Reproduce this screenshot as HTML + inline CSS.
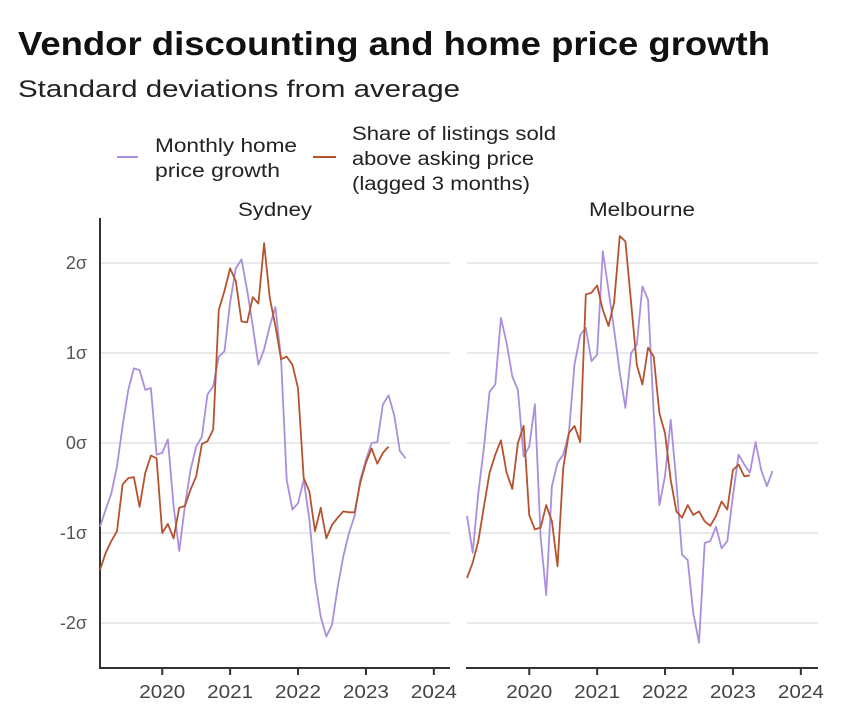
<!DOCTYPE html>
<html><head><meta charset="utf-8"><style>
body{margin:0;background:#fff;}
svg text{font-family:"Liberation Sans",sans-serif;}
</style></head><body>
<svg width="849" height="720" viewBox="0 0 849 720" xmlns="http://www.w3.org/2000/svg">
<text x="18" y="55" font-size="33" font-weight="bold" fill="#111" textLength="752" lengthAdjust="spacingAndGlyphs">Vendor discounting and home price growth</text>
<text x="18" y="97" font-size="24" fill="#222" textLength="442" lengthAdjust="spacingAndGlyphs">Standard deviations from average</text>
<g>
<line x1="117" y1="157" x2="138" y2="157" stroke="#a98fdc" stroke-width="2"/>
<text font-size="19" fill="#222"><tspan x="155" y="152" textLength="142" lengthAdjust="spacingAndGlyphs">Monthly home</tspan><tspan x="155" y="177" textLength="125" lengthAdjust="spacingAndGlyphs">price growth</tspan></text>
<line x1="313" y1="157" x2="336" y2="157" stroke="#b5532f" stroke-width="2"/>
<text font-size="19" fill="#222"><tspan x="352" y="140" textLength="204" lengthAdjust="spacingAndGlyphs">Share of listings sold</tspan><tspan x="352" y="165" textLength="182" lengthAdjust="spacingAndGlyphs">above asking price</tspan><tspan x="352" y="190" textLength="178" lengthAdjust="spacingAndGlyphs">(lagged 3 months)</tspan></text>
</g>
<g id="plots"></g>
</svg>
<script>
const yTicks=[2,1,0,-1,-2];
const yTickLabels=["2σ","1σ","0σ","-1σ","-2σ"];
const xTicks=[2020,2021,2022,2023,2024];
const panelNames=["Sydney","Melbourne"];
const sydPrice=[-0.93,-0.74,-0.56,-0.26,0.19,0.59,0.83,0.81,0.59,0.61,-0.13,-0.11,0.04,-0.7,-1.2,-0.7,-0.3,-0.04,0.07,0.54,0.63,0.96,1.02,1.56,1.94,2.04,1.7,1.3,0.87,1.04,1.3,1.51,0.93,-0.41,-0.74,-0.67,-0.41,-0.85,-1.52,-1.93,-2.15,-2.02,-1.6,-1.26,-1.0,-0.81,-0.41,-0.19,0,0.01,0.43,0.53,0.31,-0.09,-0.17];
const sydShare=[-1.41,-1.22,-1.09,-0.98,-0.46,-0.39,-0.38,-0.71,-0.33,-0.14,-0.17,-1.0,-0.9,-1.06,-0.72,-0.7,-0.52,-0.37,-0.01,0.02,0.15,1.48,1.69,1.94,1.8,1.35,1.34,1.62,1.55,2.22,1.61,1.3,0.93,0.96,0.87,0.61,-0.39,-0.54,-0.98,-0.72,-1.06,-0.91,-0.83,-0.76,-0.77,-0.77,-0.44,-0.22,-0.06,-0.23,-0.11,-0.04];
const melPrice=[-0.81,-1.22,-0.56,-0.04,0.57,0.65,1.39,1.11,0.74,0.59,-0.15,-0.04,0.43,-1.04,-1.69,-0.48,-0.22,-0.13,0.11,0.87,1.2,1.28,0.91,0.98,2.13,1.7,1.26,0.78,0.39,1.0,1.09,1.74,1.59,0.33,-0.69,-0.37,0.26,-0.44,-1.24,-1.3,-1.89,-2.22,-1.11,-1.09,-0.93,-1.17,-1.09,-0.59,-0.13,-0.24,-0.33,0.01,-0.3,-0.48,-0.31];
const melShare=[-1.5,-1.33,-1.09,-0.7,-0.33,-0.13,0.03,-0.33,-0.51,0,0.19,-0.8,-0.96,-0.94,-0.69,-0.87,-1.37,-0.28,0.11,0.19,0.01,1.65,1.67,1.75,1.48,1.3,1.56,2.3,2.24,1.56,0.87,0.65,1.06,0.96,0.33,0.11,-0.41,-0.76,-0.83,-0.69,-0.8,-0.76,-0.87,-0.92,-0.81,-0.65,-0.74,-0.3,-0.24,-0.37,-0.36];
const startYear=2019+1/12; // Feb 2019
const NS="http://www.w3.org/2000/svg";
const g=document.getElementById('plots');
function mk(t,a){const e=document.createElementNS(NS,t);for(const k in a)e.setAttribute(k,a[k]);return e;}
const panels=[{x0:100,x1:450,price:sydPrice,share:sydShare,cx:275},{x0:467,x1:818,price:melPrice,share:melShare,cx:642}];
function yS(v){return 443-v*90;}
panels.forEach((p,pi)=>{
  const xS=yr=>p.x0+(yr-startYear)*67.9;
  const pg=mk('g',{});
  
  
  g.appendChild(pg);
  const t=mk('text',{x:p.cx,y:216,'font-size':19,'text-anchor':'middle',fill:'#222',textLength:pi?106:74,lengthAdjust:'spacingAndGlyphs'});
  t.textContent=panelNames[pi];
  
  
  pg.appendChild(t);
  yTicks.forEach((v,i)=>{
    const l=mk('line',{x1:p.x0,x2:p.x1,y1:yS(v),y2:yS(v),stroke:'#e2e2e2','stroke-width':1.5});
    
    
    pg.appendChild(l);
    if(pi===0){
      const tl=mk('text',{x:87,y:yS(v)+6,'font-size':18,'text-anchor':'end',fill:'#555'});
      tl.textContent=yTickLabels[i];
      
      
      pg.appendChild(tl);
    }
  });
  if(pi===0){
    const ya=mk('line',{x1:p.x0,x2:p.x0,y1:218,y2:669,stroke:'#333','stroke-width':2});
    
    
    pg.appendChild(ya);
  }
  const xa=mk('line',{x1:p.x0-1,x2:p.x1,y1:668,y2:668,stroke:'#333','stroke-width':2});
  
  
  pg.appendChild(xa);
  xTicks.forEach(yr=>{
    const x=xS(yr);
    const tk=mk('line',{x1:x,x2:x,y1:668,y2:675,stroke:'#333','stroke-width':2});
    
    
    pg.appendChild(tk);
    const tl=mk('text',{x:x,y:698,'font-size':18,'text-anchor':'middle',fill:'#444',textLength:46,lengthAdjust:'spacingAndGlyphs'});
    tl.textContent=yr;
    
    
    pg.appendChild(tl);
  });
  [[p.price,'#a98fdc','price-growth-line'],[p.share,'#b5532f','share-above-asking-line']].forEach(([arr,c,n])=>{
    const d=arr.map((v,i)=>(i?'L':'M')+xS(startYear+i/12).toFixed(1)+','+yS(v).toFixed(1)).join('');
    const path=mk('path',{d:d,fill:'none',stroke:c,'stroke-width':1.8,'stroke-linejoin':'round'});
    
    
    pg.appendChild(path);
  });
});
</script>
</body></html>
